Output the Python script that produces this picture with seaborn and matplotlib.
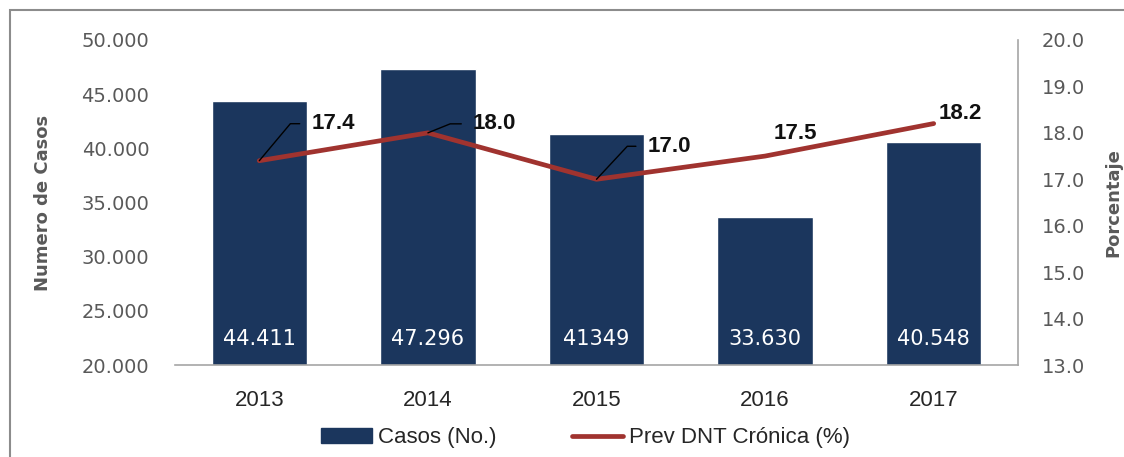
import numpy as np
import pandas as pd
import matplotlib
matplotlib.use("Agg")
import matplotlib.pyplot as plt
from matplotlib.patches import Patch, Rectangle
from matplotlib.lines import Line2D
import seaborn as sns

# ---- data ----
years = ["2013", "2014", "2015", "2016", "2017"]
casos = [44411, 47296, 41349, 33630, 40548]
casos_labels = ["44.411", "47.296", "41349", "33.630", "40.548"]
prev = [17.4, 18.0, 17.0, 17.5, 18.2]
prev_labels = ["17.4", "18.0", "17.0", "17.5", "18.2"]
left_ticks = [20000, 25000, 30000, 35000, 40000, 45000, 50000]
left_tick_labels = ["20.000", "25.000", "30.000", "35.000", "40.000", "45.000", "50.000"]
right_ticks = [13, 14, 15, 16, 17, 18, 19, 20]
right_tick_labels = ["13.0", "14.0", "15.0", "16.0", "17.0", "18.0", "19.0", "20.0"]

bar_color = "#1B365D"
line_color = "#A0332F"
gray = "#595959"

sns.set_theme(style="white")
plt.rcParams["font.family"] = ["Liberation Sans", "DejaVu Sans"]

fig = plt.figure(figsize=(11.24, 4.57), dpi=100)
ax = fig.add_axes([0.1557, 0.2013, 0.75, 0.7112])

df = pd.DataFrame({"year": years, "casos": casos})
sns.barplot(data=df, x="year", y="casos", color=bar_color, width=0.565,
            saturation=1, ax=ax, zorder=2)
ax.set_xlim(-0.5, len(years) - 0.5)
ax.set_ylim(20000, 50000)
ax.set_yticks(left_ticks, left_tick_labels, fontfamily="DejaVu Sans", fontsize=14)
ax.tick_params(axis="y", labelcolor=gray, pad=18.5, length=0)
ax.tick_params(axis="x", labelsize=16, labelcolor="#262626", pad=18, length=0)
for s in ["top", "left", "right"]:
    ax.spines[s].set_visible(False)
ax.spines["bottom"].set_color("#a6a6a6")
ax.spines["bottom"].set_linewidth(1.2)
ax.set_xlabel("")
ax.set_ylabel("Numero de Casos", fontsize=13, fontweight="bold", color=gray,
              fontfamily="DejaVu Sans")
ax.yaxis.set_label_coords(-0.146, 0.5)

for i, lab in enumerate(casos_labels):
    ax.annotate(lab, xy=(i, 20000), xytext=(0, 26), textcoords="offset pixels",
                ha="center", va="center", color="white", fontsize=15,
                fontfamily="DejaVu Sans")

ax2 = ax.twinx()
ldf = pd.DataFrame({"pos": np.arange(len(years)), "prev": prev})
sns.lineplot(data=ldf, x="pos", y="prev", color=line_color, linewidth=3.4, ax=ax2)
ax2.set_ylim(13, 20)
ax2.set_yticks(right_ticks, right_tick_labels, fontfamily="DejaVu Sans", fontsize=14)
ax2.tick_params(axis="y", labelcolor=gray, pad=17, length=0)
for s in ["top", "left", "bottom"]:
    ax2.spines[s].set_visible(False)
ax2.spines["right"].set_color("#a6a6a6")
ax2.spines["right"].set_linewidth(1.2)
ax2.set_xlabel("")
ax2.set_ylabel("Porcentaje", fontsize=13, fontweight="bold", color=gray,
               fontfamily="DejaVu Sans")
ax2.yaxis.set_label_coords(1.103, 0.5)
ax2.set_xlim(-0.5, len(years) - 0.5)

# label offsets (pixels) and leader-line angle (None = no leader)
offsets = [(52, 37), (45, 9), (51, 33), (30, 23), (27, 10)]
angles = [50, 22, 47, None, None]
for i, (lab, (dx, dy), ang) in enumerate(zip(prev_labels, offsets, angles)):
    if ang is None:
        ax2.annotate(lab, xy=(i, prev[i]), xytext=(dx, dy), textcoords="offset pixels",
                     ha="center", va="center", fontsize=16, fontweight="bold",
                     color="#111111")
    else:
        ax2.annotate(lab, xy=(i, prev[i]), xytext=(dx, dy), textcoords="offset pixels",
                     ha="left", va="center", fontsize=16, fontweight="bold",
                     color="#111111",
                     arrowprops=dict(arrowstyle="-", color="black", lw=1.0,
                                     shrinkA=6, shrinkB=0, relpos=(0, 0.5),
                                     connectionstyle=f"angle,angleA=0,angleB={ang},rad=0"))

handles = [Patch(facecolor=bar_color, edgecolor=bar_color),
           Line2D([0], [0], color=line_color, lw=3.4)]
fig.legend(handles, ["Casos (No.)", "Prev DNT Crónica (%)"], loc="center",
           bbox_to_anchor=(0.521, 0.042), ncol=2, frameon=False, fontsize=16,
           handlelength=2.3, handleheight=0.7, handletextpad=0.27,
           columnspacing=3.4, labelcolor="#262626")

fig.patches.append(Rectangle((10 / 1124, -0.2), 1.3, 1.2 - 10 / 457,
                             transform=fig.transFigure, fill=False,
                             edgecolor="#8c8c8c", lw=1.5))

fig.savefig("out.png", dpi=100)
